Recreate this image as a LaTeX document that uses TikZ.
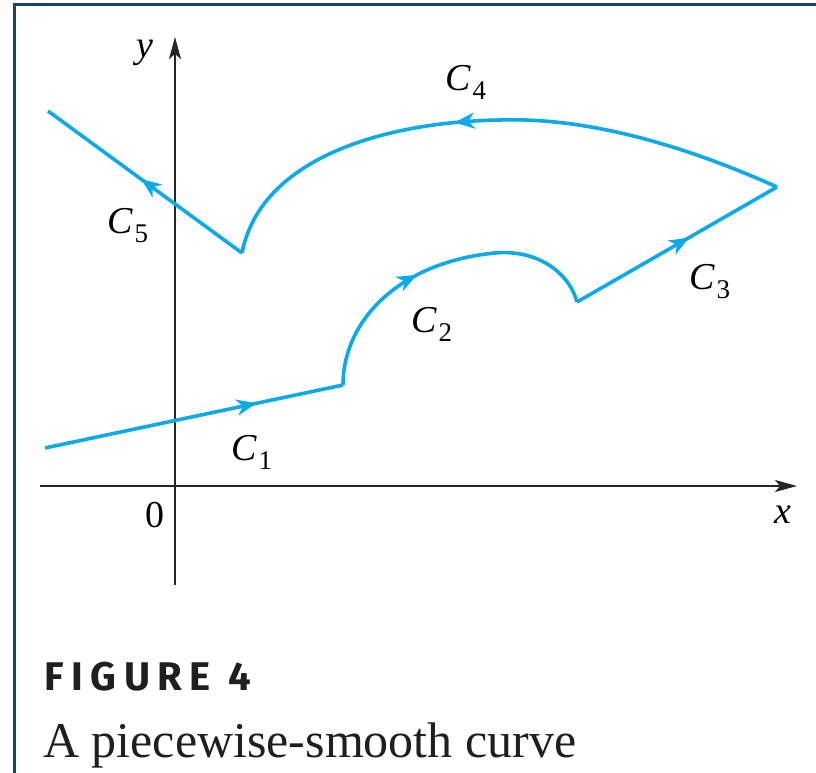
\documentclass[tikz,border=0pt]{standalone}
\usepackage{fontspec}
\setmainfont{Liberation Serif}
\newfontfamily\figfont[LetterSpace=19]{Fira Sans}
\usetikzlibrary{arrows.meta,decorations.markings}
\definecolor{curveblue}{RGB}{14,170,232}
\definecolor{frameblue}{RGB}{26,66,114}
\newcommand{\clab}[1]{\textit{C}\hspace{1pt}\raisebox{-9pt}{\fontsize{27}{27}\selectfont #1}}
\begin{document}
\begin{tikzpicture}[x=1pt,y=-1pt,
  curve/.style={curveblue,line width=3.6pt,line join=miter},
  midarrow/.style={postaction={decorate},decoration={markings,mark=at position #1 with {\arrow{Stealth[length=20pt,width=16pt,inset=6pt]}}}},
  axis/.style={black!85,line width=1.3pt},
  axtip/.style={-{Stealth[length=22pt,width=12pt,inset=5pt]}},
  lab/.style={font=\fontsize{38}{40}\selectfont,inner sep=0pt}]
\fill[white] (0,0) rectangle (816,773);
\useasboundingbox (0,0) rectangle (816,773);
% frame
\draw[frameblue,line width=3pt] (14,773) -- (14,5) -- (816,5);
% axes
\coordinate (xs) at (40,486);
\coordinate (xe) at (797,486);
\coordinate (ys) at (175,585);
\coordinate (ye) at (175,37);
\draw[axis,axtip] (xs) -- (xe);
\draw[axis,axtip] (ys) -- (ye);
\node[lab] (ylab) at (145,53) {\textit{y}};
\node[lab] (xlab) at (783,515) {\textit{x}};
\node[lab] (zero) at (155,515) {0};
% corner points
\coordinate (P0) at (45,448);
\coordinate (P1) at (343,385);
\coordinate (P2) at (577,302);
\coordinate (P3) at (777,187);
\coordinate (P4) at (242,253);
\coordinate (P5) at (48,111);
\coordinate (T2) at (495,253);
\coordinate (T4) at (500,120);
% C1
\draw[curve,midarrow=0.71] (P0) -- (P1);
% C2
\draw[curve,midarrow=0.43] (P1) .. controls (343,320) and (400,262) .. (T2) .. controls (540,249) and (570,275) .. (P2);
% C3
\draw[curve,midarrow=0.56] (P2) -- (P3);
% C4
\draw[curve,midarrow=0.555] (P3) .. controls (650,130) and (560,118) .. (T4) .. controls (380,122) and (260,160) .. (P4);
% C5
\draw[curve,midarrow=0.52] (P4) -- (P5);
% labels
\node[lab] (c1) at (252,452) {\clab{1}};
\node[lab] (c2) at (432,324) {\clab{2}};
\node[lab] (c3) at (710,282) {\clab{3}};
\node[lab] (c4) at (466,82) {\clab{4}};
\node[lab] (c5) at (128,226) {\clab{5}};
% caption
\node[anchor=base west,inner sep=0pt,font=\figfont\bfseries\fontsize{40}{42}\selectfont,text=black!88] (fig) at (44,690) {FIGURE 4};
\node[anchor=base west,inner sep=0pt,font=\fontsize{50}{52}\selectfont,text=black!88] (cap) at (43,757) {A piecewise-smooth curve};
\end{tikzpicture}
\end{document}
